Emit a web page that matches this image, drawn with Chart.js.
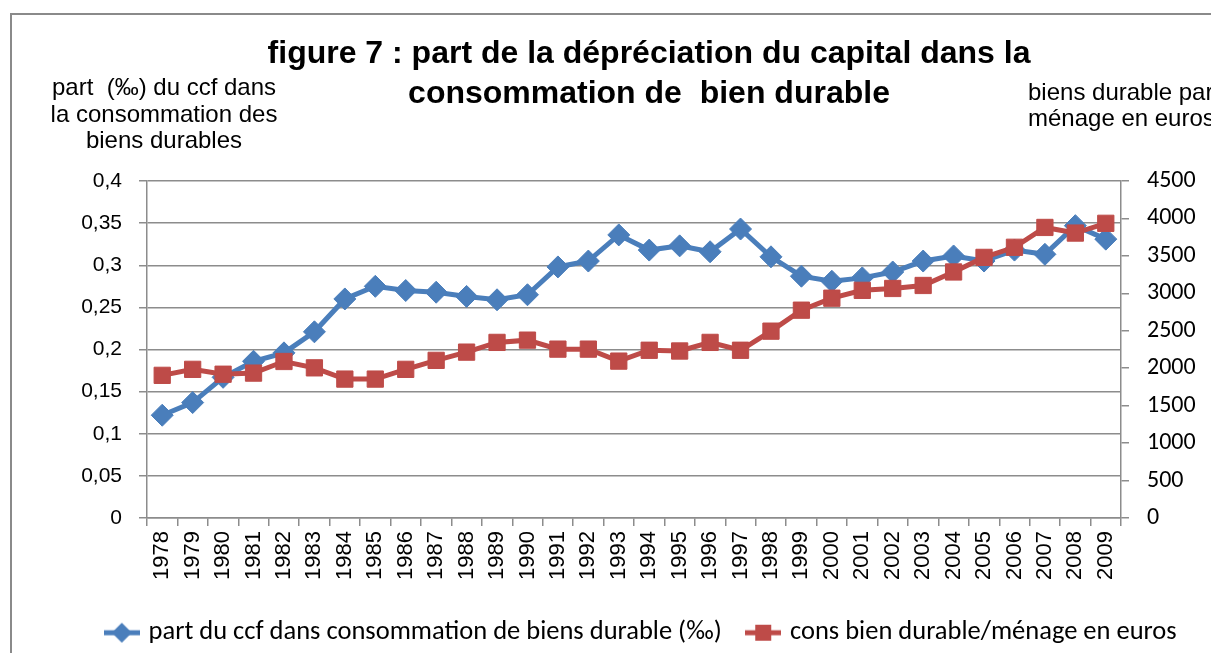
<!DOCTYPE html>
<html>
<head>
<meta charset="utf-8">
<script src="https://cdn.jsdelivr.net/npm/chart.js@4.4.1/dist/chart.umd.min.js"></script>
<style>
  html, body { margin: 0; padding: 0; background: #fff; overflow: hidden; }
  #wrap { position: relative; width: 1211px; height: 653px; overflow: hidden; }
  #frame { position: absolute; left: 10px; top: 13px; width: 1300px; height: 700px; border: 2px solid #8a8a8a; }
  #chart { position: absolute; left: 0; top: 0; }
  .txt { position: absolute; font-family: "Liberation Sans", Arial, sans-serif; color: #000; white-space: nowrap; }
  #title { left: 0; width: 1298px; top: 32px; text-align: center; font-weight: bold; font-size: 32px; line-height: 40px; }
  #ytitle { left: 14px; width: 300px; top: 74px; text-align: center; font-size: 24px; line-height: 26.5px; }
  #y1title { left: 1028px; top: 79px; font-size: 24px; line-height: 26px; }
</style>
</head>
<body>
<div id="wrap">
  <div id="frame"></div>
  <canvas id="chart" width="1211" height="653"></canvas>
  <div class="txt" id="title">figure 7 : part de la dépréciation du capital dans la<br>consommation de&nbsp; bien durable</div>
  <div class="txt" id="ytitle">part&nbsp; (‰) du ccf dans<br>la consommation des<br>biens durables</div>
  <div class="txt" id="y1title">biens durable par<br>ménage en euros</div>
</div>
<script>
// --- DATA ---
const years = ["1978", "1979", "1980", "1981", "1982", "1983", "1984", "1985", "1986", "1987",
  "1988", "1989", "1990", "1991", "1992", "1993", "1994", "1995", "1996", "1997",
  "1998", "1999", "2000", "2001", "2002", "2003", "2004", "2005", "2006", "2007",
  "2008", "2009"];

// part du ccf (left axis)
const partCcf = [0.122, 0.137, 0.167, 0.186, 0.196, 0.221, 0.260, 0.275, 0.270, 0.268,
  0.263, 0.259, 0.265, 0.298, 0.305, 0.336, 0.318, 0.323, 0.316, 0.343,
  0.310, 0.287, 0.281, 0.285, 0.292, 0.305, 0.311, 0.305, 0.318, 0.313,
  0.347, 0.331];

// cons bien durable / ménage (right axis)
const consMenage = [1905, 1985, 1920, 1935, 2090, 2005, 1855, 1855, 1985, 2105,
  2215, 2345, 2375, 2255, 2255, 2095, 2240, 2230, 2345, 2240,
  2495, 2775, 2935, 3040, 3065, 3105, 3285, 3480, 3615, 3880,
  3805, 3935];

const leftTicks = ["0", "0,05", "0,1", "0,15", "0,2", "0,25", "0,3", "0,35", "0,4"];
const rightTicks = ["0", "500", "1000", "1500", "2000", "2500", "3000", "3500", "4000", "4500"];

const seriesNames = ["part du ccf dans consommation de biens durable (‰)", "cons bien durable/ménage en euros"];

// --- STYLE ---
const BLUE = "#4a7ebb";
const RED = "#be4b48";
const GRID = "#8c8c8c";
const ARIAL = "'Liberation Sans', Arial, sans-serif";
const CALIBRI = "Carlito, Lato, sans-serif";

// legend symbol: short line with the marker in the middle
function legendSymbol(color, shape) {
  const c = document.createElement("canvas");
  c.width = 36;
  c.height = 24;
  const g = c.getContext("2d");
  g.strokeStyle = color;
  g.lineWidth = 5;
  g.beginPath();
  g.moveTo(0, 12);
  g.lineTo(36, 12);
  g.stroke();
  g.fillStyle = color;
  g.beginPath();
  if (shape === "diamond") {
    g.moveTo(18, 2); g.lineTo(28, 12); g.lineTo(18, 22); g.lineTo(8, 12);
  } else {
    g.rect(10, 4, 16, 16);
  }
  g.closePath();
  g.fill();
  return c;
}

const symbols = [legendSymbol(BLUE, "diamond"), legendSymbol(RED, "square")];

new Chart(document.getElementById("chart"), {
  type: "line",
  data: {
    labels: years,
    datasets: [
      {
        label: seriesNames[0],
        data: partCcf,
        yAxisID: "y",
        borderColor: BLUE,
        backgroundColor: BLUE,
        borderWidth: 5,
        pointStyle: "rectRot",
        pointRadius: 11,
        pointBorderWidth: 1,
        pointHoverRadius: 11,
        tension: 0,
        order: 2,
      },
      {
        label: seriesNames[1],
        data: consMenage,
        yAxisID: "y1",
        borderColor: RED,
        backgroundColor: RED,
        borderWidth: 5,
        pointStyle: "rect",
        pointRadius: 11.5,
        pointBorderWidth: 1,
        pointHoverRadius: 11.5,
        tension: 0,
        order: 1,
      },
    ],
  },
  options: {
    responsive: false,
    animation: false,
    layout: { padding: { top: 181, left: 74, right: 0, bottom: -3 } },
    plugins: {
      title: { display: false },
      tooltip: { enabled: false },
      legend: {
        position: "bottom",
        labels: {
          usePointStyle: true,
          pointStyleWidth: 27,
          padding: 28,
          color: "#000",
          font: { family: CALIBRI, size: 26.5 },
          generateLabels: (chart) =>
            chart.data.datasets.map((ds, i) => ({
              text: ds.label,
              pointStyle: symbols[i],
              fillStyle: ds.borderColor,
              strokeStyle: ds.borderColor,
              lineWidth: 0,
              datasetIndex: i,
              hidden: false,
            })),
        },
      },
    },
    scales: {
      x: {
        offset: true,
        grid: { offset: true, drawOnChartArea: false, drawTicks: true, tickLength: 8, color: GRID, lineWidth: 1.5 },
        border: { color: GRID, width: 1.5 },
        ticks: { minRotation: 90, maxRotation: 90, autoSkip: false, padding: 5, color: "#000", font: { family: ARIAL, size: 22 } },
        afterFit: (s) => { s.height = 50; },
      },
      y: {
        position: "left",
        min: 0,
        max: 0.4,
        grid: { color: GRID, lineWidth: 1.5, tickLength: 8 },
        border: { color: GRID, width: 1.5 },
        ticks: {
          stepSize: 0.05,
          padding: 17,
          color: "#000",
          font: { family: ARIAL, size: 21 },
          callback: (v) => leftTicks[Math.round(v / 0.05)],
        },
        afterFit: (s) => { s.width = 73; },
      },
      y1: {
        position: "right",
        min: 0,
        max: 4500,
        grid: { drawOnChartArea: false, color: GRID, lineWidth: 1.5, tickLength: 8 },
        border: { color: GRID, width: 1.5 },
        ticks: {
          stepSize: 500,
          padding: 18,
          color: "#000",
          font: { family: CALIBRI, size: 24 },
          callback: (v) => rightTicks[Math.round(v / 500)],
        },
        afterFit: (s) => { s.width = 90; },
      },
    },
  },
  plugins: [{
    // pin the plot bottom at y=518 whatever the legend height turns out to be
    id: "pinBottom",
    afterLayout(chart) {
      const want = 518;
      if (Math.abs(chart.chartArea.bottom - want) > 0.5 && !chart._pinned) {
        chart._pinned = true;
        const legendTop = chart.legend.top;
        chart.options.scales.x.afterFit = (s) => { s.height = legendTop - want; };
        chart.update();
      }
    },
  }],
});
</script>
</body>
</html>
